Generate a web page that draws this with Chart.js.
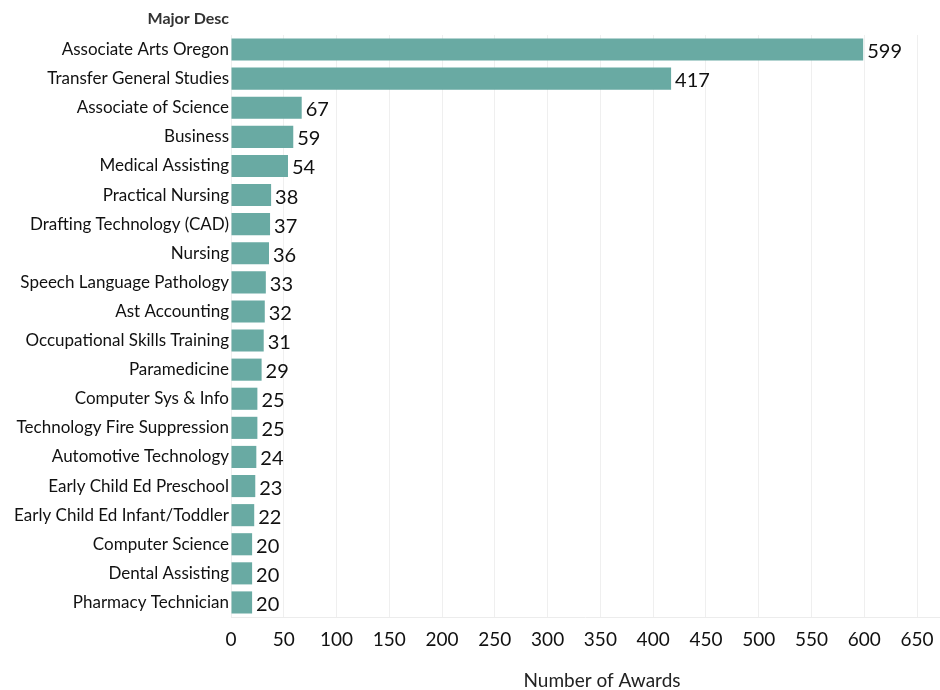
<!DOCTYPE html>
<html>
<head>
<meta charset="utf-8">
<script src="https://cdn.jsdelivr.net/npm/chart.js@4"></script>
<style>
  html, body { margin: 0; padding: 0; background: #ffffff; }
  #wrap { width: 940px; height: 690px; }
</style>
</head>
<body>
<div id="wrap"><canvas id="c" width="940" height="690"></canvas></div>
<script>
const categories = [
  "Associate Arts Oregon", "Transfer General Studies", "Associate of Science", "Business",
  "Medical Assisting", "Practical Nursing", "Drafting Technology (CAD)", "Nursing",
  "Speech Language Pathology", "Ast Accounting", "Occupational Skills Training", "Paramedicine",
  "Computer Sys & Info", "Technology Fire Suppression", "Automotive Technology",
  "Early Child Ed Preschool", "Early Child Ed Infant/Toddler", "Computer Science",
  "Dental Assisting", "Pharmacy Technician"
];
const awards = [599, 417, 67, 59, 54, 38, 37, 36, 33, 32, 31, 29, 25, 25, 24, 23, 22, 20, 20, 20];
const xTicks = [0, 50, 100, 150, 200, 250, 300, 350, 400, 450, 500, 550, 600, 650];
const rowHeader = "Major Desc";
const axisTitle = "Number of Awards";

const FONT = "Lato, 'Noto Sans', sans-serif";

const extras = {
  id: 'extras',
  afterDatasetsDraw(chart) {
    const ctx = chart.ctx;
    const meta = chart.getDatasetMeta(0);
    ctx.save();
    ctx.fillStyle = '#111';
    ctx.font = '20px ' + FONT;
    ctx.textAlign = 'left';
    ctx.textBaseline = 'middle';
    meta.data.forEach((bar, i) => {
      ctx.fillText(String(awards[i]), bar.x + 4, bar.y + 2);
    });
    ctx.restore();
  },
  afterDraw(chart) {
    const ctx = chart.ctx;
    const a = chart.chartArea;
    ctx.save();
    ctx.strokeStyle = '#ececec';
    ctx.lineWidth = 1;
    ctx.beginPath();
    ctx.moveTo(a.left, Math.round(a.bottom) + 0.5);
    ctx.lineTo(chart.width, Math.round(a.bottom) + 0.5);
    ctx.stroke();
    ctx.fillStyle = '#333';
    ctx.font = 'bold 16px ' + FONT;
    ctx.textAlign = 'right';
    ctx.textBaseline = 'middle';
    ctx.fillText(rowHeader, a.left - 2, 19);
    ctx.fillStyle = '#222';
    ctx.font = '19px ' + FONT;
    ctx.textAlign = 'center';
    ctx.fillText(axisTitle, 602, 681);
    ctx.restore();
  }
};

new Chart(document.getElementById('c'), {
  type: 'bar',
  data: {
    labels: categories,
    datasets: [{
      data: awards,
      backgroundColor: '#69aaa3',
      borderWidth: 0,
      categoryPercentage: 0.76,
      barPercentage: 1.0
    }]
  },
  options: {
    indexAxis: 'y',
    responsive: false,
    animation: false,
    devicePixelRatio: 1,
    layout: { padding: { top: 35, right: 23, left: 0, bottom: 0 } },
    plugins: { legend: { display: false }, tooltip: { enabled: false } },
    scales: {
      x: {
        type: 'linear',
        min: 0,
        max: 650,
        afterBuildTicks(scale) { scale.ticks = xTicks.map(v => ({ value: v })); },
        afterFit(scale) { scale.height = 73; scale.paddingRight = 0; scale.paddingLeft = 0; },
        grid: { color: '#efefef', drawTicks: false, lineWidth: 1 },
        border: { display: false },
        ticks: {
          color: '#111',
          font: { family: FONT, size: 19 },
          padding: 11,
          maxRotation: 0,
          autoSkip: false
        }
      },
      y: {
        afterFit(scale) { scale.width = 231; },
        grid: { display: false, drawTicks: false },
        border: { display: false },
        ticks: {
          color: '#111',
          font: { family: FONT, size: 17 },
          padding: 2,
          autoSkip: false
        }
      }
    }
  },
  plugins: [extras]
});
</script>
</body>
</html>
